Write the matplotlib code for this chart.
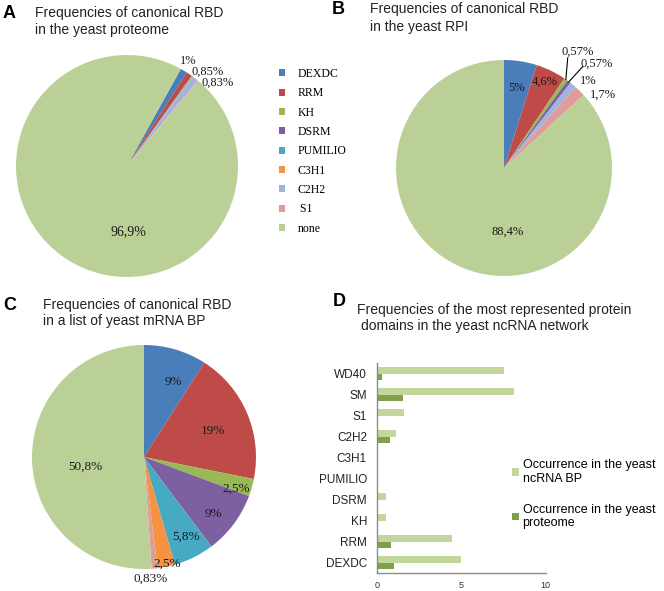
import numpy as np
import matplotlib
matplotlib.use('Agg')
import matplotlib.pyplot as plt

################################
domains = ['DEXDC', 'RRM', 'KH', 'DSRM', 'PUMILIO', 'C3H1', 'C2H2', 'S1', 'none']
legend_names = ['DEXDC', 'RRM', 'KH', 'DSRM', 'PUMILIO', 'C3H1', 'C2H2', ' S1', 'none']
colors = ['#4A7EBB', '#BE4B48', '#98B954', '#7D60A0', '#46AAC5', '#F69240',
          '#A0B4DD', '#E09B9B', '#BBD097']

# % of proteins with each domain
prot_pct = [1, 0.85, 0.1, 0.05, 0.05, 0.05, 0.83, 0.12, 96.9]   # A: yeast proteome
rpi_pct = [5, 4.6, 0.57, 0.57, 0, 0, 1, 1.7, 88.4]              # B: yeast RPI
mrna_pct = [9, 19, 2.5, 9, 5.8, 2.5, 0, 0.83, 50.8]             # C: mRNA BP

# D: occurrences
bar_domains = ['DEXDC', 'RRM', 'KH', 'DSRM', 'PUMILIO', 'C3H1', 'C2H2', 'S1', 'SM', 'WD40']
ncrna_bp = [4.98, 4.45, 0.53, 0.53, 0, 0, 1.13, 1.64, 8.1, 7.53]
proteome = [1.03, 0.85, 0.1, 0.04, 0.1, 0.1, 0.79, 0.1, 1.58, 0.3]
################################

W, H = 664, 591
fig = plt.figure(figsize=(W / 100, H / 100), dpi=100)
serif = 'Liberation Serif'
sans = 'Liberation Sans'


def px_rect(x0, y0, w, h):
    # pixel box (top-left origin) -> figure fraction
    return [x0 / W, 1 - (y0 + h) / H, w / W, h / H]


def draw_pie(cx, cy, r, values, start, labels, fs):
    ax = fig.add_axes(px_rect(cx - r, cy - r, 2 * r, 2 * r))
    wedges, _ = ax.pie(values, colors=colors, startangle=start, counterclock=False,
                       wedgeprops=dict(linewidth=0))
    ax.set_xlim(-1, 1)
    ax.set_ylim(-1, 1)
    ax.set_aspect('equal')
    ax.axis('off')
    for txt, x, y in labels:
        ax.text(x, y, txt, ha='center', va='center', fontsize=fs, family=serif,
                color='#1a1a1a', clip_on=False)
    return ax, wedges


# A
axA, wA = draw_pie(127, 166, 111, prot_pct, 61,
                   [('1%', 0.55, 0.95), ('0,85%', 0.73, 0.85), ('0,83%', 0.82, 0.75)], 9)
axA.text(0.01, -0.59, '96,9%', ha='center', va='center', fontsize=10, family=serif,
         color='#1a1a1a')

# B
axB, wB = draw_pie(504, 168, 108, rpi_pct, 90,
                   [('5%', 0.12, 0.74), ('4,6%', 0.38, 0.80), ('0,57%', 0.68, 1.08),
                    ('0,57%', 0.86, 0.97), ('1%', 0.78, 0.81), ('1,7%', 0.92, 0.68),
                    ('88,4%', 0.03, -0.59)], 9)
# leader lines for the two thin slices (KH, DSRM)
for w, (lx, ly) in zip([wB[2], wB[3]], [(0.59, 1.02), (0.73, 0.94)]):
    mid = np.deg2rad((w.theta1 + w.theta2) / 2)
    axB.plot([lx, np.cos(mid)], [ly, np.sin(mid)], color='black', lw=0.8, clip_on=False)

# C
axC, wC = draw_pie(144, 457, 112, mrna_pct, 90,
                   [('9%', 0.26, 0.67), ('19%', 0.62, 0.23), ('2,5%', 0.82, -0.28),
                    ('9%', 0.62, -0.51), ('5,8%', 0.38, -0.71), ('2,5%', 0.21, -0.95),
                    ('0,83%', 0.06, -1.09), ('50,8%', -0.52, -0.09)], 9.5)

# legend shared by pies
fig.legend(wA, legend_names, loc='upper left', bbox_to_anchor=(279 / W, 1 - 68 / H),
           frameon=False, prop={'family': serif, 'size': 8.5}, handlelength=0.55,
           handleheight=0.55, handletextpad=1.0, labelspacing=0.62, borderpad=0,
           borderaxespad=0)

# D
axD = fig.add_axes(px_rect(376.7, 363, 169, 210))
y = np.arange(len(bar_domains))
light = '#C3D69B'
dark = '#7EA04A'
bh = 0.29
b1 = axD.barh(y + bh / 2, ncrna_bp, height=bh, color=light)
b2 = axD.barh(y - bh / 2, proteome, height=bh, color=dark)
axD.set_xlim(0, 10)
axD.set_ylim(-0.5, len(bar_domains) - 0.5)
axD.set_xticks([0, 5, 10])
axD.set_yticks(y)
axD.set_yticklabels(bar_domains, family=sans, fontsize=8.5, color='#222222')
axD.tick_params(axis='y', length=0, pad=7)
axD.tick_params(axis='x', length=0, pad=6, labelsize=6.5, labelcolor='#333333')
for lab in axD.get_xticklabels():
    lab.set_family(sans)
for s in ['top', 'right']:
    axD.spines[s].set_visible(False)
for s in ['left', 'bottom']:
    axD.spines[s].set_color('#8c8c8c')
    axD.spines[s].set_linewidth(1)

fig.legend([b1, b2], ['Occurrence in the yeast\nncRNA BP', 'Occurrence in the yeast\nproteome'],
           loc='upper left', bbox_to_anchor=(512 / W, 1 - 459 / H), frameon=False,
           prop={'family': sans, 'size': 9}, handlelength=0.55, handleheight=0.55,
           handletextpad=0.3, labelspacing=1.5, borderpad=0, borderaxespad=0)

# panel letters and titles
for letter, x, yy in [('A', 3, 13), ('B', 332, 10), ('C', 3, 305), ('D', 333, 302)]:
    fig.text(x / W, 1 - yy / H, letter, fontsize=13, fontweight='bold', family=sans,
             ha='left', va='center')
titles = [('Frequencies of canonical RBD', 35, 13), ('in the yeast proteome', 35, 30),
          ('Frequencies of canonical RBD', 370, 9), ('in the yeast RPI', 370, 27),
          ('Frequencies of canonical RBD', 43, 305), ('in a list of yeast mRNA BP', 43, 321),
          ('Frequencies of the most represented protein', 357, 310),
          ('domains in the yeast ncRNA network', 361, 326)]
for t, x, yy in titles:
    fig.text(x / W, 1 - yy / H, t, fontsize=10, family=sans, ha='left', va='center',
             color='#222222')

fig.savefig('out.png', dpi=100)
